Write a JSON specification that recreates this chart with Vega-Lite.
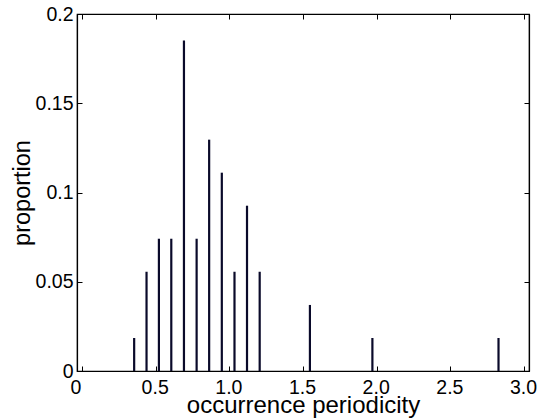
{
  "$schema": "https://vega.github.io/schema/vega-lite/v6.json",
  "width": 452,
  "height": 357,
  "autosize": "none",
  "padding": {"left": 77, "top": 14, "right": 15, "bottom": 47},
  "background": "white",
  "config": {
    "view": {"stroke": "black", "strokeWidth": 1.2},
    "axis": {"labelFont": "Liberation Sans", "titleFont": "Liberation Sans", "labelColor": "black", "titleColor": "black", "domainColor": "black", "tickColor": "black", "grid": false, "titleFontWeight": "normal"}
  },
  "data": {"values": [
    {"period": 0.354, "proportion": 0.0185},
    {"period": 0.438, "proportion": 0.0556},
    {"period": 0.522, "proportion": 0.0741},
    {"period": 0.606, "proportion": 0.0741},
    {"period": 0.692, "proportion": 0.1852},
    {"period": 0.778, "proportion": 0.0741},
    {"period": 0.863, "proportion": 0.1296},
    {"period": 0.949, "proportion": 0.1111},
    {"period": 1.035, "proportion": 0.0556},
    {"period": 1.120, "proportion": 0.0926},
    {"period": 1.206, "proportion": 0.0556},
    {"period": 1.547, "proportion": 0.0370},
    {"period": 1.971, "proportion": 0.0185},
    {"period": 2.827, "proportion": 0.0185}
  ]},
  "resolve": {"axis": {"x": "independent", "y": "independent"}},
  "layer": [
    {
      "mark": {"type": "bar", "size": 2.2, "color": "#0a0a2a"},
      "encoding": {
        "x": {"field": "period", "type": "quantitative",
          "scale": {"domain": [0, 3], "nice": false, "zero": false},
          "axis": {"orient": "bottom", "title": "occurrence periodicity", "values": [0, 0.5, 1, 1.5, 2, 2.5, 3],
            "labelExpr": "datum.value == 0 ? '0' : format(datum.value, '.1f')",
            "labelOffset": {"condition": {"test": "datum.value == 0", "value": -6.5}, "value": -1},
            "labelBaseline": "alphabetic",
            "tickSize": -5, "labelPadding": 27, "labelFontSize": 19.5, "titleFontSize": 24, "titleY": 41, "titleBaseline": "alphabetic", "domainWidth": 1.2, "labelFlush": false}},
        "y": {"field": "proportion", "type": "quantitative",
          "scale": {"domain": [0, 0.2], "nice": false},
          "axis": {"orient": "left", "title": "proportion", "values": [0, 0.05, 0.1, 0.15, 0.2],
            "labelExpr": "datum.value == 0 ? '0' : format(datum.value, '~g')",
            "tickSize": -5, "labelPadding": 9, "labelFontSize": 19.5, "titleFontSize": 23.5, "titleX": -48, "titleBaseline": "alphabetic", "domainWidth": 1.2, "labelFlush": false}}
      }
    },
    {
      "mark": {"type": "bar", "size": 2, "opacity": 0},
      "encoding": {
        "x": {"field": "period", "type": "quantitative",
          "axis": {"orient": "top", "title": null, "labels": false, "values": [0, 0.5, 1, 1.5, 2, 2.5, 3], "tickSize": -5, "domainWidth": 1.2}},
        "y": {"field": "proportion", "type": "quantitative",
          "axis": {"orient": "right", "title": null, "labels": false, "values": [0, 0.05, 0.1, 0.15, 0.2], "tickSize": -5, "domainWidth": 1.2}}
      }
    }
  ]
}
